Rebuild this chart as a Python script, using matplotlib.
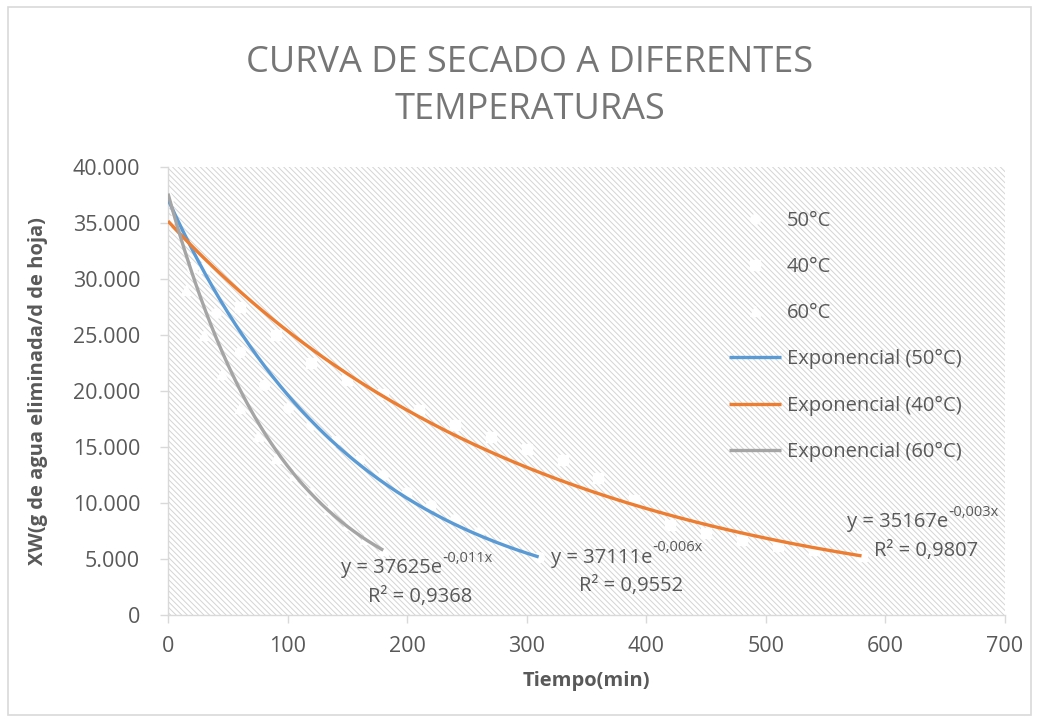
import numpy as np
import matplotlib
matplotlib.use("Agg")
import matplotlib.pyplot as plt
from matplotlib.patches import Rectangle
from matplotlib.ticker import FuncFormatter

plt.rcParams['font.family'] = ['Open Sans', 'DejaVu Sans']
plt.rcParams['axes.unicode_minus'] = False
plt.rcParams['hatch.color'] = '#d4d4d4'
plt.rcParams['hatch.linewidth'] = 0.7

# measured points (drawn white in the original, so they only hide the hatching)
t50 = [0, 20, 40, 60, 80, 100, 120, 140, 160, 180, 200, 220, 240, 260, 280, 310]
x50 = [37100, 31000, 27000, 23500, 20500, 18500, 17000, 15500, 13800, 12500,
       11000, 9800, 8600, 7400, 6300, 5200]
t40 = [0, 30, 60, 90, 120, 150, 180, 210, 240, 270, 300, 330, 360, 390, 420,
       450, 480, 510, 540, 580]
x40 = [35200, 31000, 27500, 25000, 22500, 21000, 19700, 18300, 17000, 15900,
       14800, 13800, 12200, 10300, 8000, 7300, 6700, 6200, 5800, 5300]
t60 = [0, 15, 30, 45, 60, 75, 90, 105, 120, 135, 150, 165, 180]
x60 = [37600, 29000, 25000, 21500, 18500, 16000, 14000, 12500, 11000, 9500,
       8000, 6800, 5800]

# exponential trendlines y = a*exp(-b*t)
series = ['50°C', '40°C', '60°C']
trend_a = [37111, 35167, 37625]
trend_b = [0.00635, 0.00327, 0.0104]
trend_end = [310, 580, 180]
trend_colors = ['#5B9BD5', '#ED7D31', '#A5A5A5']
eq_exp = ['\u20100,006x', '\u20100,003x', '\u20100,011x']
r2_text = ['0,9552', '0,9807', '0,9368']
eq_pos = [(387, 3800), (634, 7000), (211, 2900)]

fig = plt.figure(figsize=(10.39, 7.22), dpi=100)
fig.patches.append(Rectangle((0.008, 0.01), 0.984, 0.98, transform=fig.transFigure,
                             facecolor='none', edgecolor='#d9d9d9', lw=1.2))
ax = fig.add_axes([0.1617, 0.1482, 0.8056, 0.6205])

ax.add_patch(Rectangle((0, 0), 1, 1, transform=ax.transAxes, facecolor='white',
                       edgecolor='#d4d4d4', hatch='\\' * 6, lw=0, zorder=0))

gray_txt = '#595959'
markers = ['o', 's', '^']
for name, t, x, m in zip(series, [t50, t40, t60], [x50, x40, x60], markers):
    ax.plot(t, x, linestyle='none', marker=m, markersize=7, color='white',
            markeredgecolor='white', label=name, zorder=2)

for name, a, b, end, c in zip(series, trend_a, trend_b, trend_end, trend_colors):
    tt = np.linspace(0, end, 200)
    ax.plot(tt, a * np.exp(-b * tt), color=c, lw=2.4,
            label='Exponencial (%s)' % name, zorder=3, solid_capstyle='butt')

# equation labels: main text plus a small superscript placed right after it
for a, ex, r2, (px, py) in zip(trend_a, eq_exp, r2_text, eq_pos):
    t1 = ax.text(px - 24, py + 1300, 'y = %de' % a, ha='center', va='center',
                 fontsize=14.5, color=gray_txt, zorder=4)
    ax.annotate(ex, xy=(1, 0.62), xycoords=t1, ha='left', va='bottom',
                fontsize=10.5, color=gray_txt, zorder=4)
    ax.text(px, py - 1250, 'R² = %s' % r2, ha='center', va='center',
            fontsize=14.5, color=gray_txt, zorder=4)

ax.set_xlim(0, 700)
ax.set_ylim(0, 40000)
ax.set_xticks(range(0, 701, 100))
ax.set_yticks(range(0, 40001, 5000))
ax.yaxis.set_major_formatter(FuncFormatter(
    lambda v, p: '0' if v == 0 else '{:,.0f}'.format(v).replace(',', '.')))

for s in ['top', 'right']:
    ax.spines[s].set_visible(False)
for s in ['left', 'bottom']:
    ax.spines[s].set_color('#d9d9d9')
    ax.spines[s].set_linewidth(1.0)
ax.tick_params(axis='both', colors='#d9d9d9', labelcolor=gray_txt, labelsize=15.5,
               length=6, width=1.0)
ax.tick_params(axis='x', pad=9)
ax.tick_params(axis='y', pad=14)

ax.set_xlabel('Tiempo(min)', fontsize=14.5, fontweight='bold', color=gray_txt, labelpad=10)
ax.set_ylabel('XW(g de agua eliminada/d de hoja)', fontsize=14.5, fontweight='bold',
              color=gray_txt, labelpad=18)

fig.text(0.51, 0.88, 'CURVA DE SECADO A DIFERENTES\nTEMPERATURAS', ha='center',
         va='center', fontsize=26, color='#767676', linespacing=1.42)

leg = ax.legend(loc='upper left', bbox_to_anchor=(0.648, 0.943), frameon=False,
                fontsize=14.5, labelcolor=gray_txt, handlelength=2.6,
                labelspacing=1.3, handletextpad=0.3)

fig.savefig('out.png', dpi=100)
